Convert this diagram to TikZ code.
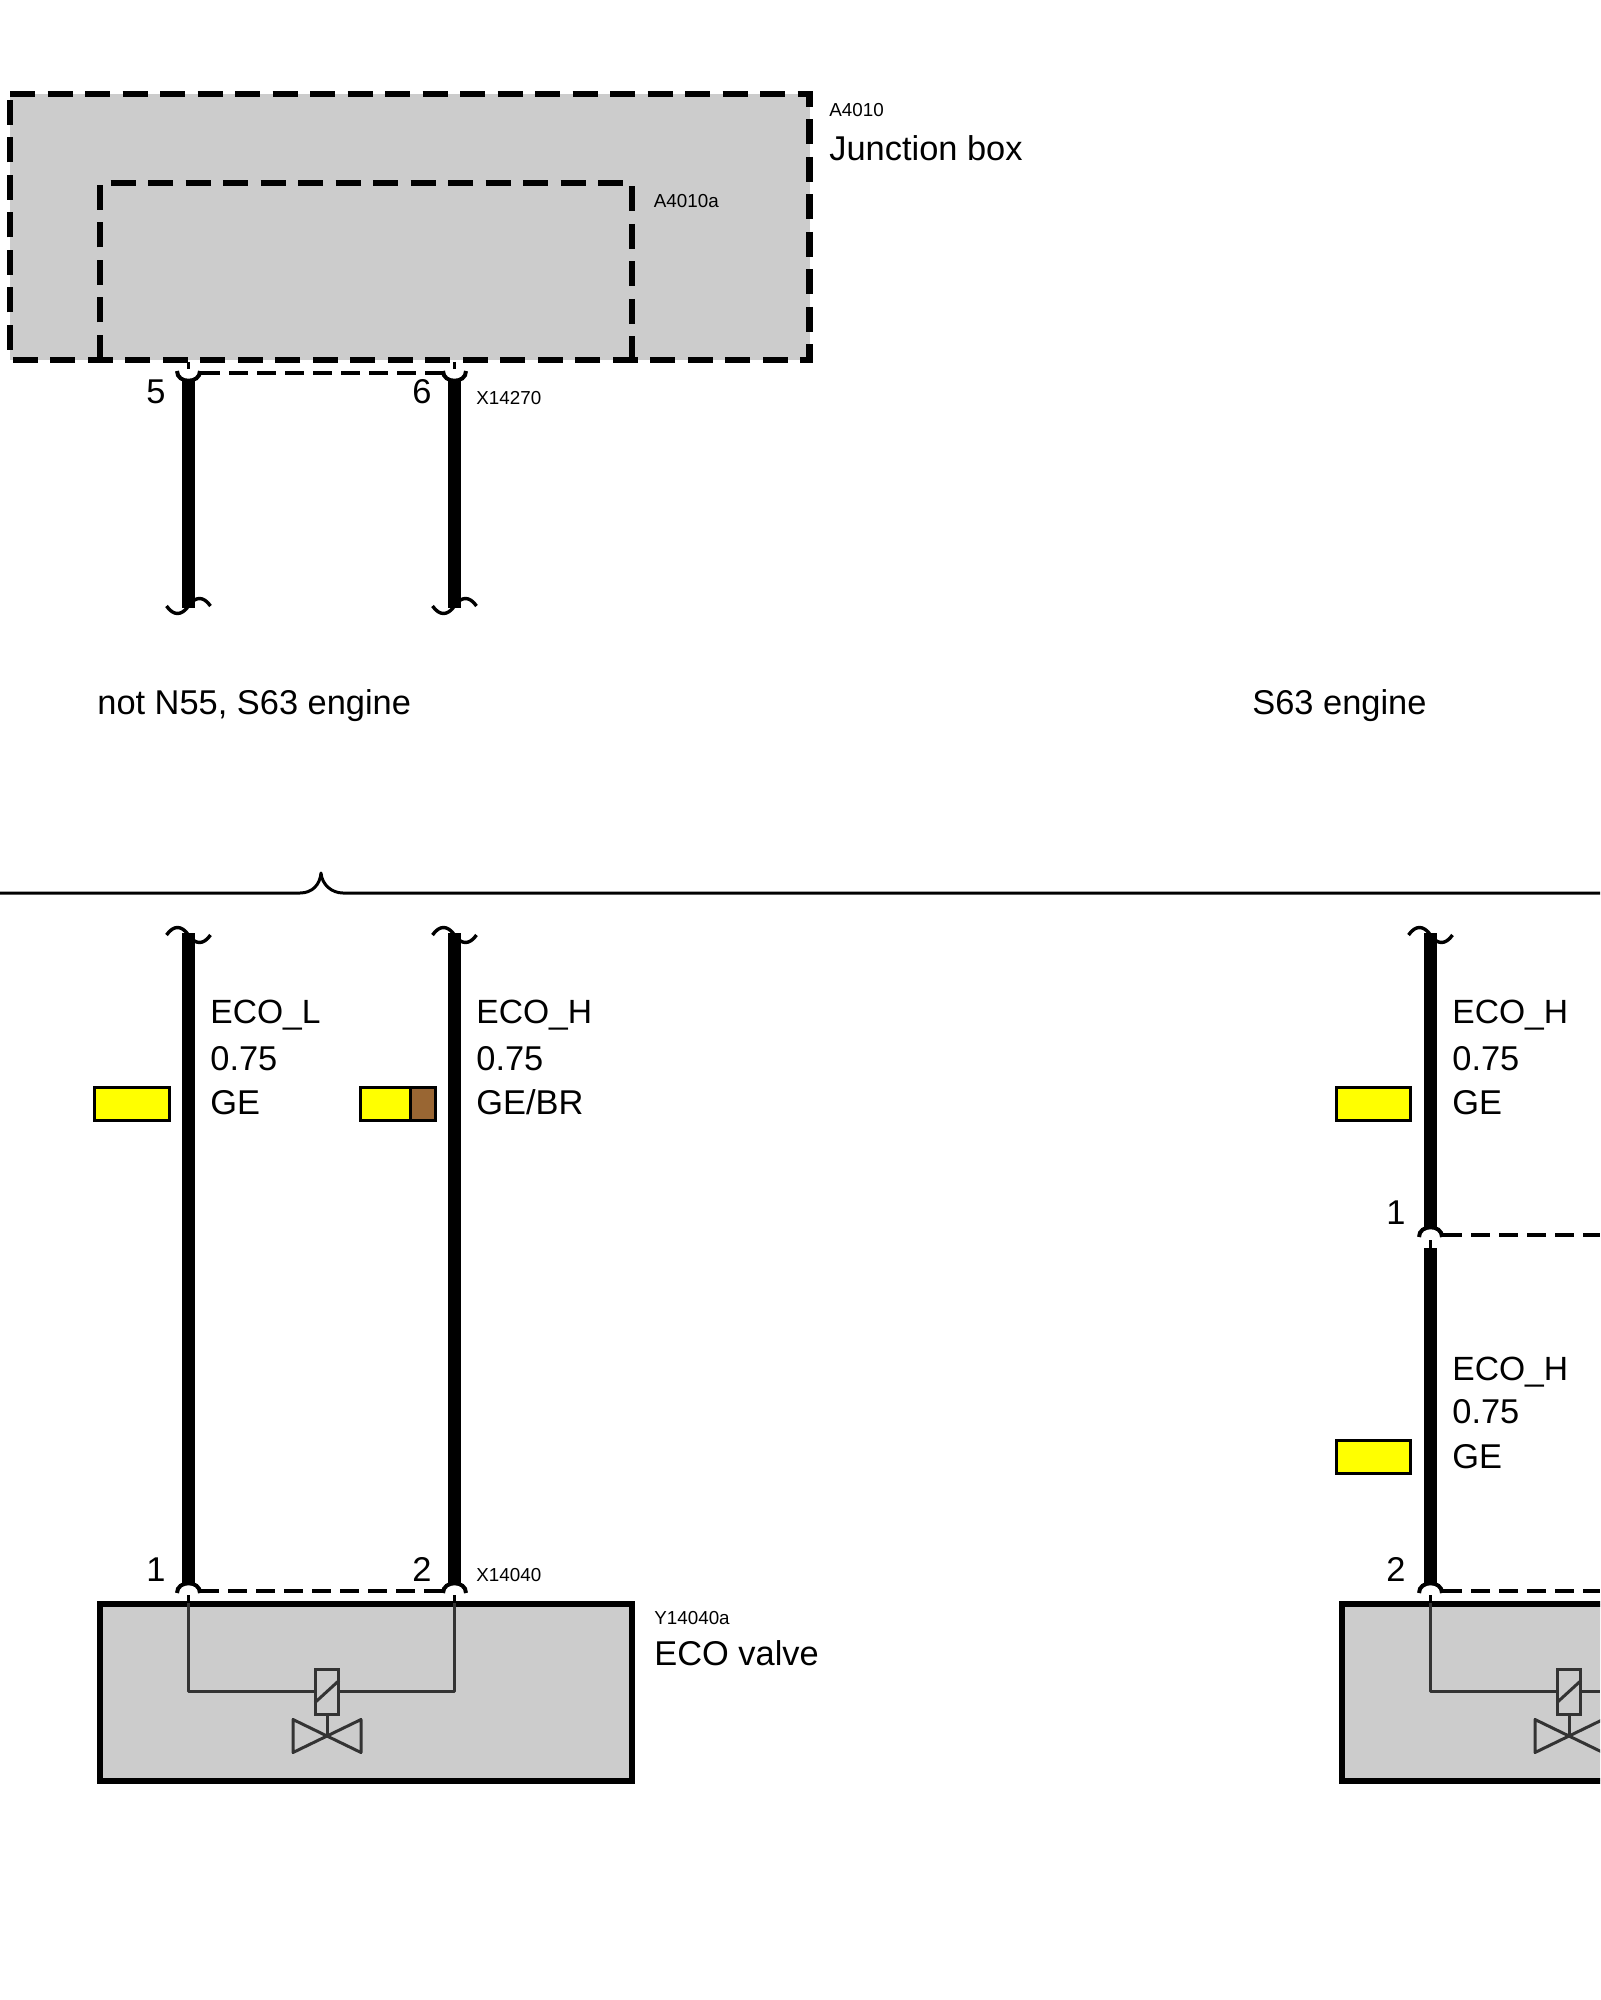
\documentclass[tikz,border=0pt]{standalone}
\usepackage{fontspec}
\setmainfont{Liberation Sans}
\definecolor{housing}{HTML}{CCCCCC}
\definecolor{symbol}{HTML}{333333}
\definecolor{wireye}{HTML}{FFFF00}
\definecolor{wirebr}{HTML}{996633}
\tikzstyle{bigtext} = [inner sep=0, anchor=base west, font=\fontsize{17.2}{20}\selectfont]
\tikzstyle{wiretext} = [inner sep=0, anchor=base west, font=\fontsize{16.8}{20}\selectfont]
\tikzstyle{pintext} = [inner sep=0, anchor=base, font=\fontsize{17.2}{20}\selectfont]
\tikzstyle{smalltext} = [inner sep=0, anchor=base west, font=\fontsize{9.4}{11}\selectfont]
\tikzstyle{solidbox} = [draw=black, fill=housing, line width=3pt, inner sep=0]
\tikzstyle{dashbox} = [draw=black, line width=3.4pt, dash pattern=on 12.5pt off 6.25pt]
\tikzstyle{swatch} = [draw=black, line width=1.5pt, inner sep=0, minimum height=16.5pt]
\tikzstyle{wire} = [line width=6.6pt, black]
\tikzstyle{cut} = [line width=1.7pt, black]
\tikzstyle{pinline} = [line width=2pt, black]
\tikzstyle{shield} = [line width=1.7pt, black, dash pattern=on 9.5pt off 4.5pt]
\tikzstyle{stub} = [line width=1.5pt, black]
\tikzstyle{symline} = [line width=1.5pt, symbol]
\newcommand{\wirecut}[2]{\draw[cut, shift={(#1)}] (-22,0) .. controls (-15,#2*10) and (-7,#2*10) .. (0,0) .. controls (7,-#2*10) and (15,-#2*10) .. (22,0);}
\newcommand{\pincup}[2]{\draw[pinline, shift={(#1)}] (-11.5,0) .. controls (-11.5,#2*13) and (11.5,#2*13) .. (11.5,0);}
\newcommand{\swatch}[3]{\node [swatch, fill=wireye, minimum width=#3] (#1) at (#2) {};}
\newcommand{\valve}[3]{%
	\node [draw=symbol, fill=housing, line width=1.5pt, inner sep=0, minimum width=11.5pt, minimum height=22.5pt] (#1) at (#2,#3) {};%
	\draw [symline] (#2-12,#3+11) -- (#2+12,#3-11);%
	\coordinate (#1x) at (#2,#3+44.5);%
	\draw [symline] (#1.south) -- (#1x);%
	\draw [symline, line join=round] (#1x) -- (#2-34,#3+61) -- (#2-34,#3+28) -- (#2+34,#3+61) -- (#2+34,#3+28) -- cycle;}
\begin{document}
\begin{tikzpicture}[x=.5pt, y=-.5pt]
	\useasboundingbox (0,0) rectangle (1600,2000);%
	\clip (0,0) rectangle (1600,2000);%
	\coordinate (boxa) at (10,94); \coordinate (boxb) at (809.5,94);%
	\coordinate (boxc) at (809.5,360); \coordinate (boxd) at (10,360);%
	\fill [housing] (boxa) rectangle (boxc);%
	\draw [dashbox] (boxa) -- (boxb) -- (boxc) -- (boxd) -- cycle;%
	\coordinate (suba) at (100,360); \coordinate (subb) at (100,183);%
	\coordinate (subc) at (632,183); \coordinate (subd) at (632,360);%
	\draw [dashbox] (suba) -- (subb) -- (subc) -- (subd);%
	\node [smalltext] (idbox) at (829,117) {A4010};%
	\node [bigtext] (namebox) at (829,161) {Junction box};%
	\node [smalltext] (idsub) at (653.5,208) {A4010a};%
	\node [pintext] (pinfive) at (156,404) {5};%
	\node [pintext] (pinsix) at (422,404) {6};%
	\node [smalltext] (idtop) at (476,405) {X14270};%
	\coordinate (a1) at (188.5,362); \coordinate (a2) at (188.5,369);%
	\coordinate (a3) at (188.5,381); \coordinate (a4) at (188.5,608);%
	\coordinate (b1) at (454.5,362); \coordinate (b2) at (454.5,369);%
	\coordinate (b3) at (454.5,381); \coordinate (b4) at (454.5,608);%
	\draw [stub] (a1) -- (a2);%
	\draw [stub] (b1) -- (b2);%
	\pincup{188.5,371}{1}%
	\pincup{454.5,371}{1}%
	\coordinate (ash) at (201,373); \coordinate (bsh) at (443,373);%
	\draw [shield] (ash) -- (bsh);%
	\draw [wire] (a3) -- (a4);%
	\draw [wire] (b3) -- (b4);%
	\wirecut{188.5,606}{1}%
	\wirecut{454.5,606}{1}%
	\node [bigtext] (optleft) at (97,714) {not N55, S63 engine};%
	\node [bigtext] (optright) at (1252,714) {S63 engine};%
	\coordinate (bracel) at (0,893); \coordinate (bracer) at (1600,893);%
	\draw [line width=1.5pt, line join=round] (bracel) -- (300,893) .. controls (312,893) and (320,885) .. (321,873) .. controls (322,885) and (332,893) .. (343,893) -- (bracer);%
	\coordinate (c1) at (188.5,933); \coordinate (c2) at (188.5,1583);%
	\coordinate (d1) at (454.5,933); \coordinate (d2) at (454.5,1583);%
	\draw [wire] (c1) -- (c2);%
	\draw [wire] (d1) -- (d2);%
	\wirecut{188.5,935}{-1}%
	\wirecut{454.5,935}{-1}%
	\node [wiretext] (eLa) at (210,1023) {ECO\_L};%
	\node [bigtext] (eLb) at (210,1070) {0.75};%
	\node [bigtext] (eLc) at (210,1114) {GE};%
	\node [wiretext] (eHa) at (476,1023) {ECO\_H};%
	\node [bigtext] (eHb) at (476,1070) {0.75};%
	\node [bigtext] (eHc) at (476,1114) {GE/BR};%
	\swatch{swL}{131.5,1104}{37.5pt}%
	\swatch{swH}{385.25,1104}{25.25pt}%
	\node [swatch, fill=wirebr, minimum width=12.25pt] (swHb) at (422.75,1104) {};%
	\node [solidbox, minimum width=266pt, minimum height=88.5pt] (valvea) at (366,1692.5) {};%
	\node [pintext] (pinone) at (156,1581) {1};%
	\node [pintext] (pintwo) at (422,1581) {2};%
	\node [smalltext] (idvalve) at (476,1581) {X14040};%
	\node [smalltext] (idy) at (654,1624) {Y14040a};%
	\node [bigtext] (nameva) at (654,1665) {ECO valve};%
	\pincup{188.5,1593}{-1}%
	\pincup{454.5,1593}{-1}%
	\coordinate (esh) at (200,1591); \coordinate (fsh) at (443,1591);%
	\draw [shield] (esh) -- (fsh);%
	\valve{coila}{327}{1691.5}%
	\coordinate (e1) at (188.5,1595); \coordinate (e2) at (188.5,1603);%
	\coordinate (f1) at (454.5,1595); \coordinate (f2) at (454.5,1603);%
	\draw [stub] (e1) -- (e2);%
	\draw [stub] (f1) -- (f2);%
	\draw [symline, line join=round] (e2) |- (coila.west);%
	\draw [symline, line join=round] (f2) |- (coila.east);%
	\coordinate (g1) at (1430.5,933); \coordinate (g2) at (1430.5,1227);%
	\coordinate (g3) at (1430.5,1248); \coordinate (g4) at (1430.5,1583);%
	\draw [wire] (g1) -- (g2);%
	\draw [wire] (g3) -- (g4);%
	\wirecut{1430.5,935}{-1}%
	\node [wiretext] (rUa) at (1452,1023) {ECO\_H};%
	\node [bigtext] (rUb) at (1452,1070) {0.75};%
	\node [bigtext] (rUc) at (1452,1114) {GE};%
	\swatch{swU}{1373.5,1104}{37pt}%
	\node [pintext] (pinrone) at (1396,1224) {1};%
	\coordinate (g5) at (1430.5,1240);%
	\draw [stub] (g5) -- (g3);%
	\pincup{1430.5,1237}{-1}%
	\coordinate (h1) at (1443,1235); \coordinate (h2) at (1600,1235);%
	\draw [shield] (h1) -- (h2);%
	\node [wiretext] (rLa) at (1452,1380) {ECO\_H};%
	\node [bigtext] (rLb) at (1452,1423) {0.75};%
	\node [bigtext] (rLc) at (1452,1468) {GE};%
	\swatch{swR}{1373.5,1457}{37pt}%
	\node [pintext] (pinrtwo) at (1396,1581) {2};%
	\node [solidbox, minimum width=266pt, minimum height=88.5pt] (valveb) at (1608,1692.5) {};%
	\pincup{1430.5,1593}{-1}%
	\coordinate (j1) at (1443,1591); \coordinate (j2) at (1600,1591);%
	\draw [shield] (j1) -- (j2);%
	\valve{coilb}{1569}{1691.5}%
	\coordinate (k1) at (1430.5,1595); \coordinate (k2) at (1430.5,1603); \coordinate (k3) at (1600,1691.5);%
	\draw [stub] (k1) -- (k2);%
	\draw [symline, line join=round] (k2) |- (coilb.west);%
	\draw [symline] (coilb.east) -- (k3);%
\end{tikzpicture}
\end{document}
